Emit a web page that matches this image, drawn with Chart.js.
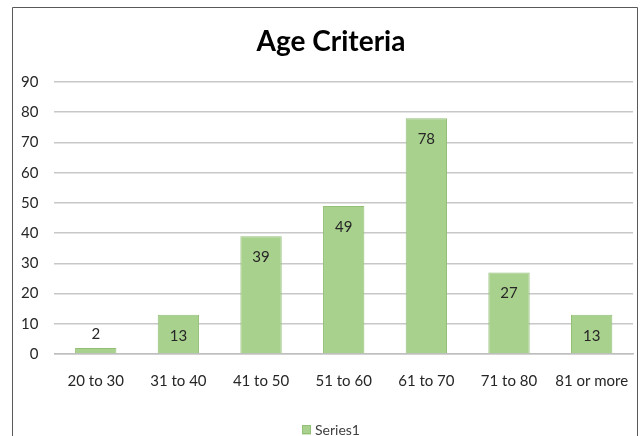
<!DOCTYPE html>
<html>
<head>
<meta charset="utf-8">
<script src="https://cdn.jsdelivr.net/npm/chart.js@4"></script>
<style>
  html, body { margin: 0; padding: 0; background: #fff; }
  #wrap { width: 643px; height: 436px; position: relative; }
</style>
</head>
<body>
<div id="wrap"><canvas id="c" width="643" height="436"></canvas></div>
<script>
const categories = ["20 to 30", "31 to 40", "41 to 50", "51 to 60", "61 to 70", "71 to 80", "81 or more"];
const series1 = [2, 13, 39, 49, 78, 27, 13];
const yTicks = [0, 10, 20, 30, 40, 50, 60, 70, 80, 90];
const chartTitle = "Age Criteria";
const seriesName = "Series1";

const FONT = "Lato, 'Open Sans', sans-serif";
const BAR_FILL = '#a9d18e';
const BAR_EDGE = '#93bf77';

const frame = {
  id: 'frame',
  beforeDraw(chart) {
    const ctx = chart.ctx;
    ctx.save();
    ctx.fillStyle = '#fff';
    ctx.fillRect(0, 0, chart.width, chart.height);
    ctx.strokeStyle = '#595959';
    ctx.lineWidth = 1;
    ctx.beginPath();
    ctx.moveTo(12.5, chart.height + 2);
    ctx.lineTo(12.5, 7.5);
    ctx.lineTo(637.5, 7.5);
    ctx.lineTo(637.5, chart.height + 2);
    ctx.stroke();
    // title
    ctx.fillStyle = '#000';
    ctx.font = "bold 28px " + FONT;
    ctx.textAlign = 'center';
    ctx.textBaseline = 'alphabetic';
    ctx.fillText(chartTitle, 331, 51);
    // legend
    const name = chart.data.datasets[0].label;
    ctx.font = "14px " + FONT;
    ctx.textBaseline = 'middle';
    const cy = 430;
    ctx.fillStyle = BAR_FILL;
    ctx.fillRect(302, 425.5, 9, 9);
    ctx.strokeStyle = BAR_EDGE;
    ctx.strokeRect(302.5, 425.5, 8, 8);
    ctx.fillStyle = '#404040';
    ctx.textAlign = 'left';
    ctx.fillText(name, 315, cy);
    ctx.restore();
  }
};

const valueLabels = {
  id: 'valueLabels',
  afterDatasetsDraw(chart) {
    const ctx = chart.ctx;
    const meta = chart.getDatasetMeta(0);
    const ds = chart.data.datasets[0];
    ctx.save();
    ctx.font = "15px " + FONT;
    ctx.fillStyle = '#262626';
    ctx.textAlign = 'center';
    ctx.textBaseline = 'middle';
    meta.data.forEach((bar, i) => {
      const h = bar.base - bar.y;
      const y = h > 30 ? bar.y + 21 : bar.y - 14;
      ctx.fillText(String(ds.data[i]), bar.x, y);
    });
    ctx.restore();
  }
};

new Chart(document.getElementById('c'), {
  type: 'bar',
  data: {
    labels: categories,
    datasets: [{
      label: seriesName,
      data: series1,
      backgroundColor: BAR_FILL,
      borderColor: BAR_EDGE,
      borderWidth: 1,
      categoryPercentage: 1.0,
      barPercentage: 0.5
    }]
  },
  options: {
    responsive: false,
    animation: false,
    devicePixelRatio: 1,
    layout: { padding: { left: 5, right: 10, top: 82, bottom: 28 } },
    plugins: {
      title: { display: false },
      legend: { display: false },
      tooltip: { enabled: false }
    },
    scales: {
      x: {
        afterFit(scale) { scale.paddingLeft = 0; scale.paddingRight = 0; },
        grid: { display: false, drawTicks: false },
        border: { color: '#bfbfbf', width: 1.5 },
        ticks: { color: '#262626', font: { family: FONT, size: 15 }, padding: 18, maxRotation: 0 }
      },
      y: {
        min: 0,
        max: 90,
        afterBuildTicks(axis) { axis.ticks = yTicks.map(v => ({ value: v })); },
        grid: { color: '#c8c8c8', lineWidth: 1.5, drawTicks: false },
        border: { display: false },
        ticks: { color: '#262626', font: { family: FONT, size: 15 }, padding: 16 }
      }
    }
  },
  plugins: [frame, valueLabels]
});
</script>
</body>
</html>
